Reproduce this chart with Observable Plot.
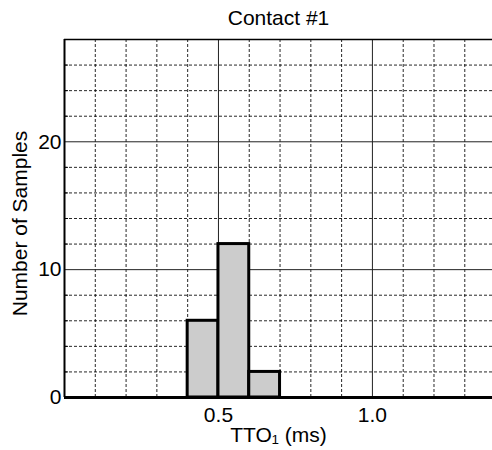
<!DOCTYPE html>
<html>
<head>
<meta charset="utf-8">
<script src="https://cdn.jsdelivr.net/npm/d3@7"></script>
<script src="https://cdn.jsdelivr.net/npm/@observablehq/plot@0.6"></script>
<style>
  html, body { margin: 0; padding: 0; background: #fff; }
</style>
</head>
<body>
<div id="chart"></div>
<script>
// ---- data ----
const title = "Contact #1";
const xLabel = "TTO\u2081 (ms)";
const yLabel = "Number of Samples";
const binStart = [0.4, 0.5, 0.6];
const binEnd = [0.5, 0.6, 0.7];
const counts = [6, 12, 2];
const xTicks = [0.5, 1.0];
const yTicks = [0, 10, 20];
const xMinorGrid = [0.1, 0.2, 0.3, 0.4, 0.6, 0.7, 0.8, 0.9, 1.1, 1.2, 1.3];
const yMinorGrid = [2, 4, 6, 8, 12, 14, 16, 18, 22, 24, 26];
const xDomain = [0, 1.39];
const yDomain = [0, 28];

const bars = binStart.map((s, i) => ({x1: s, x2: binEnd[i], y: counts[i]}));

const font = "'Liberation Sans', Arial, Helvetica, sans-serif";

const chart = Plot.plot({
  width: 492,
  height: 450,
  marginLeft: 64,
  marginRight: 0,
  marginTop: 39,
  marginBottom: 53,
  style: {fontFamily: font, fontSize: "21px", color: "#000", background: "#fff"},
  x: {domain: xDomain},
  y: {domain: yDomain},
  marks: [
    Plot.ruleX(xMinorGrid, {stroke: "#000", strokeWidth: 1, strokeDasharray: "3,2", strokeOpacity: 0.85}),
    Plot.ruleY(yMinorGrid, {stroke: "#000", strokeWidth: 1, strokeDasharray: "3,2", strokeOpacity: 0.85}),
    Plot.ruleX(xTicks, {stroke: "#222", strokeWidth: 1}),
    Plot.ruleY(yTicks.filter(d => d > 0), {stroke: "#222", strokeWidth: 1}),
    Plot.axisY(yMinorGrid, {tickSize: -4, tickFormat: () => "", label: null}),
    Plot.rectY(bars, {x1: "x1", x2: "x2", y: "y", fill: "#cccccc", stroke: "#000", strokeWidth: 3}),
    Plot.ruleY([yDomain[1]], {stroke: "#000", strokeWidth: 1.5}),
    Plot.ruleX([0], {stroke: "#000", strokeWidth: 2}),
    Plot.ruleY([0], {stroke: "#000", strokeWidth: 3}),
    Plot.axisX(xTicks, {tickSize: 0, tickPadding: 10, tickFormat: d3.format(".1f"), label: null, fontSize: 21}),
    Plot.axisY(yTicks, {tickSize: 0, tickPadding: 3, label: null, fontSize: 21}),
    Plot.text([title], {frameAnchor: "top", dy: -21, lineAnchor: "middle", fontSize: 21}),
    Plot.text([xLabel], {frameAnchor: "bottom", dy: 38, lineAnchor: "middle", fontSize: 21}),
    Plot.text([yLabel], {frameAnchor: "left", dx: -44, dy: 5, rotate: -90, textAnchor: "middle", lineAnchor: "middle", fontSize: 21})
  ]
});
document.getElementById("chart").appendChild(chart);
</script>
</body>
</html>
